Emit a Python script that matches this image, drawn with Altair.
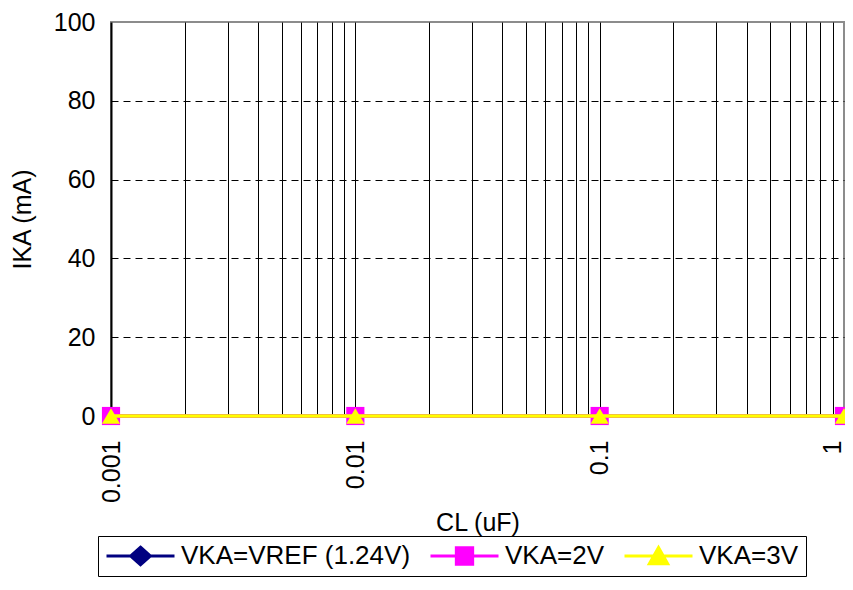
import altair as alt
import pandas as pd

# ---------------- data ----------------
series_names = ["VKA=VREF (1.24V)", "VKA=2V", "VKA=3V"]
series_colors = ["#000080", "#FF00FF", "#FFFF00"]
series_shapes = ["diamond", "square", "triangle-up"]

cl_uF = [0.001, 0.01, 0.1, 1]
ika_vref = [0, 0, 0, 0]
ika_2v = [0, 0, 0, 0]
ika_3v = [0, 0, 0, 0]

x_grid_values = [0.001, 0.002, 0.003, 0.004, 0.005, 0.006, 0.007, 0.008, 0.009,
                 0.01, 0.02, 0.03, 0.04, 0.05, 0.06, 0.07, 0.08, 0.09,
                 0.1, 0.2, 0.3, 0.4, 0.5, 0.6, 0.7, 0.8, 0.9, 1]
x_tick_labels = ["0.001", "0.01", "0.1", "1"]
y_tick_values = [0, 20, 40, 60, 80, 100]

# legend symbols: line segment plus marker (custom SVG paths)
legend_paths = [
    "M-1,0L1,0M0,-0.26L0.29,0L0,0.26L-0.29,0Z",
    "M-1,0L1,0M-0.24,-0.24L0.24,-0.24L0.24,0.24L-0.24,0.24Z",
    "M-1,0L1,0M0,-0.25L0.27,0.23L-0.27,0.23Z",
]

rows = []
for name, vals in zip(series_names, [ika_vref, ika_2v, ika_3v]):
    for x, y in zip(cl_uF, vals):
        rows.append({"series": name, "CL": x, "IKA": y})
df = pd.DataFrame(rows)

FONT = "Liberation Sans"
FS = 25

label_list = "[" + ",".join("'%s'" % s for s in x_tick_labels) + "]"

x_enc = alt.X(
    "CL:Q",
    scale=alt.Scale(type="log", domain=[0.001, 1], nice=False),
    axis=alt.Axis(
        values=x_grid_values,
        labelExpr="indexof(%s, format(datum.value, '~g')) >= 0 ? format(datum.value, '~g') : ''" % label_list,
        labelAngle=270,
        labelFontSize=FS,
        labelFont=FONT,
        labelColor="black",
        labelPadding=24,
        labelOffset={"condition": {"test": "datum.value >= 1", "value": -12}, "value": 0},
        labelOverlap=False,
        labelFlush=False,
        ticks=False,
        domain=False,
        grid=True,
        gridColor="black",
        gridWidth=1,
        gridOpacity={"condition": {"test": "datum.value >= 1 || datum.value <= 0.001", "value": 0}, "value": 1},
        title="CL (uF)",
        titleFont=FONT,
        titleFontSize=FS,
        titleFontWeight="normal",
        titleColor="black",
        titlePadding=8,
    ),
)

y_enc = alt.Y(
    "IKA:Q",
    scale=alt.Scale(domain=[0, 100], nice=False),
    axis=alt.Axis(
        values=y_tick_values,
        labelFontSize=FS,
        labelFont=FONT,
        labelColor="black",
        labelPadding=16,
        ticks=False,
        domain=True,
        domainColor="black",
        domainWidth=2,
        grid=True,
        gridColor="black",
        gridWidth=1,
        gridDash=[7, 5],
        gridOpacity={"condition": {"test": "datum.value >= 100 || datum.value <= 0", "value": 0}, "value": 1},
        title="IKA (mA)",
        titleFont=FONT,
        titleFontSize=FS,
        titleFontWeight="normal",
        titleColor="black",
        titlePadding=18,
    ),
)

base = alt.Chart(df)

layers = []
for name, color, shape in zip(series_names, series_colors, series_shapes):
    sub = base.transform_filter(alt.datum.series == name)
    layers.append(
        sub.mark_line(color=color, strokeWidth=3.5).encode(x=x_enc, y=y_enc)
    )
    layers.append(
        sub.mark_point(filled=True, color=color, shape=shape, size=330, opacity=1).encode(x=x_enc, y=y_enc)
    )

leg = alt.Legend(
    title=None,
    orient="none",
    legendX=-13,
    legendY=514,
    direction="horizontal",
    symbolSize=4624,
    symbolStrokeWidth=3,
    clipHeight=26,
    labelFontSize=26,
    labelFont=FONT,
    labelColor="black",
    labelLimit=400,
    labelOffset=5,
    columnPadding=18,
    padding=7,
    strokeColor="black",
    fillColor="white",
    symbolOpacity=1,
)

legend_layer = base.transform_filter("false").mark_point(filled=True, strokeWidth=3).encode(
    x=x_enc,
    y=y_enc,
    fill=alt.Fill("series:N", scale=alt.Scale(domain=series_names, range=series_colors), legend=leg),
    stroke=alt.Stroke("series:N", scale=alt.Scale(domain=series_names, range=series_colors), legend=leg),
    shape=alt.Shape("series:N", scale=alt.Scale(domain=series_names, range=legend_paths), legend=leg),
)

chart = alt.layer(*layers, legend_layer).properties(
    width=733,
    height=394,
    padding={"left": 103, "top": 14, "right": 1, "bottom": 162},
    autosize=alt.AutoSizeParams(type="none"),
    background="white",
).configure_view(stroke="#8c8c8c", strokeWidth=2)

chart.save("out.html", embed_options={"renderer": "svg", "actions": False})
